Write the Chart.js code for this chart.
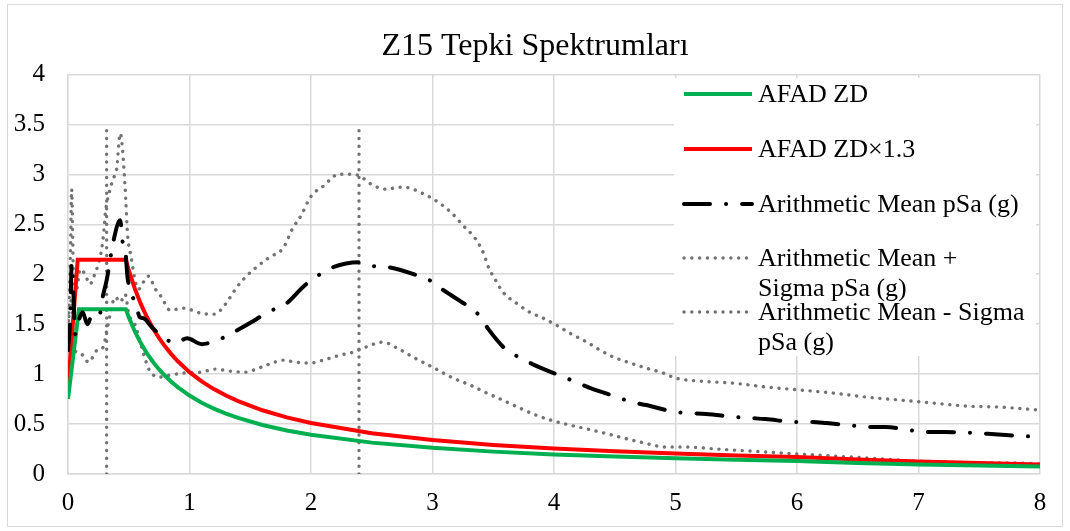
<!DOCTYPE html>
<html>
<head>
<meta charset="utf-8">
<script src="https://cdn.jsdelivr.net/npm/chart.js@4.4.1/dist/chart.umd.min.js"></script>
<style>
  html, body { margin: 0; padding: 0; background: #ffffff; }
  #wrap { width: 1070px; height: 531px; position: relative; }
</style>
</head>
<body>
<div id="wrap"><canvas id="c" width="1070" height="531"></canvas></div>
<script>
// ---- Data (period T in s, spectral acceleration in g) ----
const chartTitle = "Z15 Tepki Spektrumları";
const seriesNames = ["AFAD ZD", "AFAD ZD×1.3", "Arithmetic Mean pSa (g)", "Arithmetic Mean + Sigma pSa (g)", "Arithmetic Mean - Sigma pSa (g)"];
const legendLines = [["AFAD ZD"], ["AFAD ZD×1.3"], ["Arithmetic Mean pSa (g)"], ["Arithmetic Mean +", "Sigma pSa (g)"], ["Arithmetic Mean - Sigma", "pSa (g)"]];

const afadT = [0, 0.09, 0.476, 0.5, 0.55, 0.6, 0.65, 0.7, 0.75, 0.8, 0.85, 0.9, 1.0, 1.1, 1.2, 1.3, 1.4, 1.6, 1.8, 2.0, 2.5, 3.0, 3.5, 4.0, 4.5, 5.0, 5.5, 6.0, 6.5, 7.0, 7.5, 8.0];
const afadSa = [0.75, 1.65, 1.65, 1.57, 1.427, 1.308, 1.208, 1.121, 1.047, 0.981, 0.924, 0.872, 0.785, 0.714, 0.654, 0.604, 0.561, 0.491, 0.436, 0.393, 0.314, 0.262, 0.224, 0.196, 0.174, 0.157, 0.143, 0.131, 0.111, 0.096, 0.084, 0.074];

const afad13T = [0, 0.08, 0.476, 0.5, 0.55, 0.6, 0.65, 0.7, 0.75, 0.8, 0.85, 0.9, 1.0, 1.1, 1.2, 1.3, 1.4, 1.6, 1.8, 2.0, 2.5, 3.0, 3.5, 4.0, 4.5, 5.0, 5.5, 6.0, 6.5, 7.0, 7.5, 8.0];
const afad13Sa = [0.87, 2.145, 2.145, 2.04, 1.855, 1.70, 1.569, 1.457, 1.36, 1.275, 1.2, 1.133, 1.02, 0.927, 0.85, 0.785, 0.729, 0.638, 0.567, 0.51, 0.408, 0.34, 0.291, 0.255, 0.227, 0.204, 0.185, 0.17, 0.145, 0.125, 0.109, 0.096];

const meanT = [0, 0.02, 0.03, 0.045, 0.058, 0.08, 0.12, 0.16, 0.2, 0.26, 0.28, 0.32, 0.35, 0.37, 0.43, 0.45, 0.47, 0.49, 0.52, 0.565, 0.59, 0.62, 0.69, 0.78, 0.89, 0.98, 1.1, 1.23, 1.35, 1.55, 1.66, 1.78, 1.95, 2.05, 2.16, 2.39, 2.52, 2.64, 2.87, 2.99, 3.09, 3.29, 3.39, 3.46, 3.61, 3.73, 3.84, 4.06, 4.18, 4.3, 4.52, 4.64, 4.76, 5.0, 5.12, 5.25, 5.5, 5.62, 5.74, 6.0, 6.12, 6.24, 6.49, 6.6, 6.73, 6.98, 7.1, 7.22, 7.47, 7.6, 7.72, 8.0];
const meanSa = [1.24, 1.6, 2.11, 1.8, 1.4, 1.5, 1.62, 1.5, 1.6, 1.59, 1.74, 1.95, 2.17, 2.31, 2.54, 2.32, 2.26, 1.97, 1.82, 1.67, 1.57, 1.56, 1.47, 1.37, 1.31, 1.36, 1.30, 1.34, 1.41, 1.55, 1.63, 1.69, 1.89, 1.98, 2.06, 2.12, 2.08, 2.07, 1.99, 1.93, 1.84, 1.68, 1.58, 1.45, 1.24, 1.16, 1.09, 0.98, 0.92, 0.86, 0.77, 0.72, 0.69, 0.62, 0.61, 0.60, 0.57, 0.56, 0.55, 0.52, 0.52, 0.51, 0.48, 0.47, 0.47, 0.43, 0.42, 0.42, 0.41, 0.40, 0.39, 0.37];

const plusT = [0, 0.02, 0.03, 0.045, 0.07, 0.1, 0.14, 0.18, 0.22, 0.27, 0.29, 0.31, 0.34, 0.37, 0.4, 0.43, 0.47, 0.49, 0.52, 0.55, 0.58, 0.62, 0.66, 0.72, 0.77, 0.84, 0.95, 1.02, 1.09, 1.21, 1.27, 1.33, 1.39, 1.46, 1.55, 1.66, 1.77, 1.85, 1.92, 1.98, 2.02, 2.09, 2.17, 2.22, 2.29, 2.35, 2.42, 2.47, 2.57, 2.63, 2.71, 2.77, 2.84, 2.95, 3.06, 3.16, 3.25, 3.35, 3.42, 3.46, 3.51, 3.58, 3.69, 3.80, 3.91, 4.02, 4.13, 4.27, 4.38, 4.49, 4.63, 4.76, 4.90, 5.0, 5.2, 5.47, 5.75, 6.03, 6.30, 6.57, 6.85, 7.12, 7.40, 7.67, 8.0];
const plusSa = [1.3, 2.2, 2.85, 2.0, 1.85, 2.05, 2.0, 1.9, 2.0, 2.2, 2.37, 2.64, 2.82, 2.95, 3.05, 3.41, 2.87, 2.4, 2.17, 1.95, 1.85, 1.92, 1.98, 1.85, 1.77, 1.64, 1.66, 1.64, 1.61, 1.60, 1.66, 1.76, 1.87, 1.97, 2.07, 2.17, 2.26, 2.46, 2.59, 2.74, 2.81, 2.87, 2.96, 3.0, 3.0, 3.0, 2.97, 2.92, 2.86, 2.85, 2.87, 2.87, 2.85, 2.79, 2.71, 2.61, 2.49, 2.36, 2.21, 2.07, 1.96, 1.82, 1.71, 1.62, 1.56, 1.49, 1.41, 1.32, 1.24, 1.17, 1.11, 1.06, 1.01, 0.96, 0.93, 0.91, 0.87, 0.84, 0.81, 0.77, 0.74, 0.71, 0.68, 0.67, 0.64];

const minusT = [0, 0.02, 0.03, 0.05, 0.1, 0.17, 0.24, 0.29, 0.32, 0.39, 0.43, 0.47, 0.5, 0.55, 0.62, 0.67, 0.75, 0.84, 0.95, 1.1, 1.21, 1.33, 1.46, 1.57, 1.68, 1.77, 1.87, 1.99, 2.1, 2.24, 2.35, 2.45, 2.59, 2.71, 2.84, 3.0, 3.17, 3.31, 3.43, 3.54, 3.7, 3.85, 4.0, 4.2, 4.38, 4.54, 4.71, 4.93, 5.09, 5.34, 5.61, 5.88, 6.16, 6.44, 6.71, 6.98, 7.26, 7.53, 7.81, 8.0];
const minusSa = [1.5, 1.7, 1.75, 1.25, 1.21, 1.12, 1.24, 1.27, 1.44, 1.77, 1.72, 1.8, 1.6, 1.5, 1.21, 1.04, 0.97, 0.99, 1.01, 1.02, 1.05, 1.03, 1.02, 1.06, 1.11, 1.14, 1.12, 1.11, 1.14, 1.19, 1.22, 1.27, 1.32, 1.26, 1.17, 1.07, 0.96, 0.89, 0.82, 0.76, 0.67, 0.59, 0.53, 0.47, 0.42, 0.37, 0.32, 0.27, 0.27, 0.25, 0.23, 0.21, 0.19, 0.17, 0.15, 0.13, 0.12, 0.11, 0.11, 0.10];

// vertical period markers (T, top value)
const markerT = [0.318, 2.395];
const markerTop = [3.45, 3.45];

const xTicks = [0, 1, 2, 3, 4, 5, 6, 7, 8];
const yTicks = [0, 0.5, 1, 1.5, 2, 2.5, 3, 3.5, 4];

// ---- helpers ----
const pts = (xs, ys) => xs.map((x, i) => ({ x: x, y: ys[i] }));
const FONT = "'Liberation Serif', 'Times New Roman', serif";
const GREY = '#737373';

const styles = [
  { borderColor: '#00b050', borderWidth: 4, borderDash: [], borderCapStyle: 'butt' },
  { borderColor: '#ff0000', borderWidth: 4, borderDash: [], borderCapStyle: 'butt' },
  { borderColor: '#000000', borderWidth: 4, borderDash: [26, 16, 0.1, 16], borderCapStyle: 'round' },
  { borderColor: GREY, borderWidth: 3.4, borderDash: [0.1, 7.7], borderCapStyle: 'round' },
  { borderColor: GREY, borderWidth: 3.4, borderDash: [0.1, 7.7], borderCapStyle: 'round' }
];

const datasets = [
  Object.assign({ label: seriesNames[0], data: pts(afadT, afadSa), tension: 0 }, styles[0]),
  Object.assign({ label: seriesNames[1], data: pts(afad13T, afad13Sa), tension: 0 }, styles[1]),
  Object.assign({ label: seriesNames[2], data: pts(meanT, meanSa), cubicInterpolationMode: 'monotone' }, styles[2]),
  Object.assign({ label: seriesNames[3], data: pts(plusT, plusSa), cubicInterpolationMode: 'monotone' }, styles[3]),
  Object.assign({ label: seriesNames[4], data: pts(minusT, minusSa), cubicInterpolationMode: 'monotone' }, styles[4])
];
markerT.forEach((t, i) => {
  datasets.push(Object.assign({ label: 'marker' + i, data: [{ x: t, y: 0 }, { x: t, y: markerTop[i] }], tension: 0 }, styles[3]));
});
// draw order: sigma lines & markers behind, AFAD lines, mean on top
datasets.forEach((d, i) => {
  d.showLine = true; d.pointRadius = 0; d.pointHoverRadius = 0; d.fill = false;
  d.xAxisID = 'x'; d.yAxisID = 'y';
  d.order = (i === 2) ? 0 : (i === 0 || i === 1) ? 1 : 2;
});

const bgPlugin = {
  id: 'bg',
  beforeDraw(chart) {
    const ctx = chart.ctx;
    ctx.save();
    ctx.fillStyle = '#ffffff';
    ctx.fillRect(0, 0, chart.width, chart.height);
    ctx.strokeStyle = '#d9d9d9';
    ctx.lineWidth = 1;
    ctx.strokeRect(7.5, 4.5, chart.width - 15, chart.height - 9);
    ctx.restore();
  }
};

const legendPlugin = {
  id: 'customLegend',
  beforeDatasetsDraw(chart) {
    const ctx = chart.ctx;
    const area = chart.chartArea;
    const boxL = 674, boxT = 78, boxR = area.right - 4, boxB = 356;
    ctx.save();
    ctx.fillStyle = '#ffffff';
    ctx.fillRect(boxL, boxT, boxR - boxL, boxB - boxT);
    const rowY = [94, 149, 204, 258, 312];
    const lineGap = 30;
    ctx.font = '26px ' + FONT;
    ctx.textBaseline = 'middle';
    ctx.textAlign = 'left';
    for (let i = 0; i < 5; i++) {
      const ds = chart.data.datasets[i];
      const y = rowY[i];
      ctx.beginPath();
      ctx.strokeStyle = ds.borderColor;
      ctx.lineWidth = ds.borderWidth;
      ctx.lineCap = ds.borderCapStyle;
      ctx.setLineDash(ds.borderDash);
      ctx.moveTo(684, y);
      ctx.lineTo(752, y);
      ctx.stroke();
      ctx.setLineDash([]);
      ctx.fillStyle = '#000000';
      legendLines[i].forEach((txt, k) => ctx.fillText(txt, 758, y + k * lineGap + 1));
    }
    ctx.restore();
  }
};

new Chart(document.getElementById('c'), {
  type: 'scatter',
  data: { datasets: datasets },
  plugins: [bgPlugin, legendPlugin],
  options: {
    responsive: false,
    animation: false,
    devicePixelRatio: 1,
    layout: { padding: { left: 0, right: 0, top: 0, bottom: 0 } },
    plugins: {
      legend: { display: false },
      tooltip: { enabled: false },
      title: {
        display: true,
        text: chartTitle,
        color: '#000000',
        font: { family: FONT, size: 32, weight: 'normal' },
        padding: { top: 27, bottom: 9 }
      }
    },
    scales: {
      x: {
        type: 'linear',
        min: 0, max: 8,
        afterBuildTicks: (s) => { s.ticks = xTicks.map(v => ({ value: v })); },
        afterFit: (s) => { s.height = 57; },
        grid: { color: '#d9d9d9', lineWidth: 1.5, drawTicks: false },
        border: { color: '#d9d9d9', width: 1.5 },
        ticks: { color: '#000000', font: { family: FONT, size: 25 }, padding: 14, maxRotation: 0, callback: (v) => String(v) }
      },
      y: {
        type: 'linear',
        position: 'left',
        min: 0, max: 4,
        afterBuildTicks: (s) => { s.ticks = yTicks.map(v => ({ value: v })); },
        afterFit: (s) => { s.width = 68; },
        grid: { color: '#d9d9d9', lineWidth: 1.5, drawTicks: false },
        border: { color: '#d9d9d9', width: 1.5 },
        ticks: { color: '#000000', font: { family: FONT, size: 25 }, padding: 23, callback: (v) => String(v) }
      },
      yRight: {
        type: 'linear',
        position: 'right',
        min: 0, max: 4,
        afterFit: (s) => { s.width = 30; },
        grid: { display: false, drawTicks: false },
        border: { display: false },
        ticks: { display: false }
      }
    }
  }
});
</script>
</body>
</html>
